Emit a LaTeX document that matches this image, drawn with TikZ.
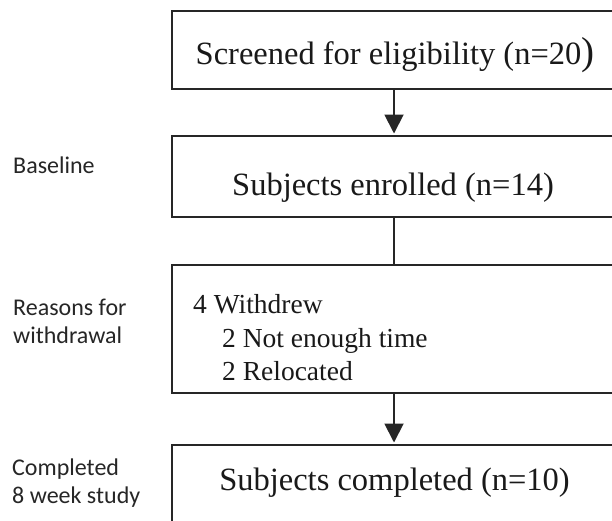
\documentclass[tikz,border=0pt]{standalone}
\usepackage{fontspec}
\setmainfont{Liberation Serif}
\newfontfamily\calfont{Carlito}
\usetikzlibrary{arrows.meta}
\begin{document}
\begin{tikzpicture}[x=1pt,y=-1pt,
  box/.style={draw=black!85,line width=1.9pt,rectangle,inner sep=0pt,outer sep=0pt,minimum width=444pt},
  bigtxt/.style={inner sep=0pt,font=\fontsize{32.5}{36}\selectfont,text=black!90},
  smalltxt/.style={inner sep=0pt,font=\fontsize{27.5}{33}\selectfont,text=black!90,anchor=base west},
  side/.style={inner sep=0pt,font=\calfont\fontsize{24}{28}\selectfont,text=black!85,anchor=base west},
  conn/.style={draw=black!85,line width=1.9pt},
  arr/.style={conn,-{Triangle[width=19pt,length=19pt]},shorten >=2.5pt}
]
\useasboundingbox (0,0) rectangle (612,520);
\fill[white] (0,0) rectangle (612,520);

\node[box,minimum height=78pt] (b1) at (394,50) {};
\node[box,minimum height=81pt] (b2) at (394,176.5) {};
\node[box,minimum height=128pt] (b3) at (394,329) {};
\node[box,minimum height=90pt] (b4) at (394,490) {};

\node[bigtxt,anchor=base] (t1) at (395,64.5) {Screened for eligibility (n=20{\fontsize{39}{39}\selectfont )}};
\node[bigtxt,anchor=base] (t2) at (393,195) {Subjects enrolled (n=14)};
\node[smalltxt] (t3a) at (193,313) {4 Withdrew};
\node[smalltxt] (t3b) at (222,347) {2 Not enough time};
\node[smalltxt] (t3c) at (222,380) {2 Relocated};
\node[bigtxt,anchor=base] (t4) at (394.5,490) {Subjects completed (n=10)};

\node[side] (l1) at (13,173) {Baseline};
\node[side] (l2a) at (13,315) {Reasons for};
\node[side] (l2b) at (13,343) {withdrawal};
\node[side] (l3a) at (12,475) {Completed};
\node[side] (l3b) at (12,503) {8 week study};

\draw[arr] (b1.south) -- (b2.north);
\draw[conn] (b2.south) -- (b3.north);
\draw[arr] (b3.south) -- (b4.north);
\end{tikzpicture}
\end{document}
